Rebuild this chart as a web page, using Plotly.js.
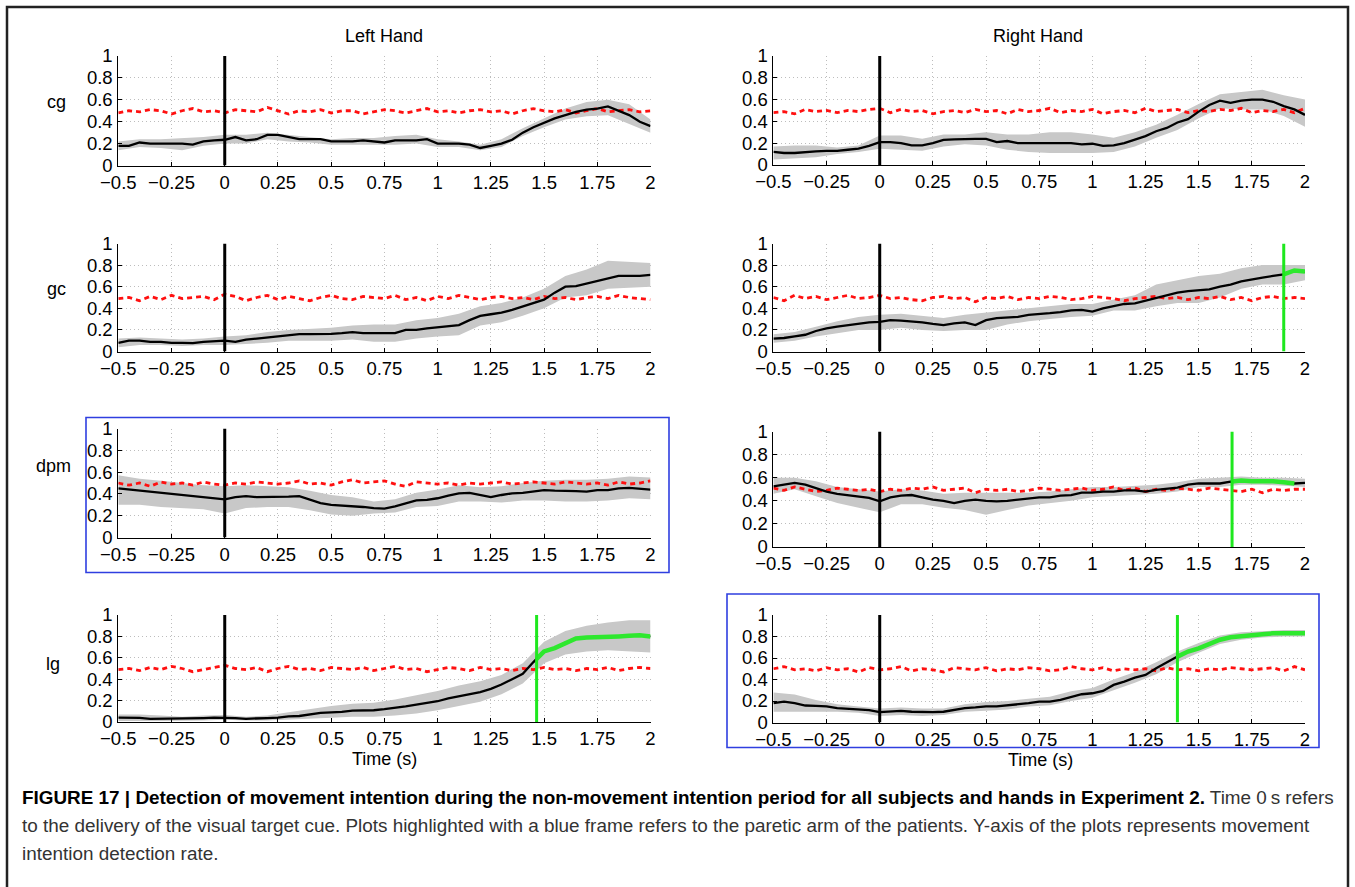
<!DOCTYPE html>
<html>
<head>
<meta charset="utf-8">
<script src="https://cdn.plot.ly/plotly-3.0.1.min.js"></script>
<style>
html,body{margin:0;padding:0;background:#fff;}
#chart{width:1355px;height:887px;}
</style>
</head>
<body>
<div id="chart"></div>
<script>
// ---------------- DATA ----------------
const time = [-0.5,-0.45,-0.4,-0.35,-0.3,-0.25,-0.2,-0.15,-0.1,-0.05,
  0,0.05,0.1,0.15,0.2,0.25,0.3,0.35,0.4,0.45,
  0.5,0.55,0.6,0.65,0.7,0.75,0.8,0.85,0.9,0.95,
  1,1.05,1.1,1.15,1.2,1.25,1.3,1.35,1.4,1.45,
  1.5,1.55,1.6,1.65,1.7,1.75,1.8,1.85,1.9,1.95,2];
const bandTime = [-0.5,-0.4,-0.3,-0.2,-0.1,0,0.1,0.2,0.3,0.4,0.5,0.6,0.7,0.8,0.9,1,1.1,1.2,1.3,1.4,1.5,1.6,1.7,1.8,1.9,2];
const xTicks = [-0.5,-0.25,0,0.25,0.5,0.75,1,1.25,1.5,1.75,2];
const yTicks = [0,0.2,0.4,0.6,0.8,1];
const rowNames = ["cg","gc","dpm","lg"];
const colNames = ["Left Hand","Right Hand"];

// mean detection rate (black line)
const meanCgL = [0.18,0.18,0.21,0.20,0.20,0.20,0.20,0.19,0.22,0.23,
  0.235,0.26,0.23,0.24,0.28,0.28,0.26,0.24,0.24,0.24,
  0.22,0.22,0.22,0.23,0.22,0.21,0.23,0.23,0.23,0.24,
  0.20,0.20,0.20,0.19,0.16,0.18,0.20,0.235,0.30,0.35,
  0.39,0.43,0.46,0.49,0.51,0.52,0.54,0.50,0.46,0.40,0.36];
const meanCgR = [0.12,0.11,0.11,0.12,0.125,0.13,0.13,0.14,0.15,0.175,
  0.21,0.21,0.20,0.18,0.18,0.20,0.23,0.235,0.24,0.24,
  0.24,0.21,0.22,0.20,0.20,0.20,0.195,0.195,0.20,0.19,
  0.195,0.175,0.18,0.20,0.235,0.265,0.31,0.34,0.39,0.42,
  0.49,0.55,0.59,0.57,0.59,0.60,0.60,0.58,0.54,0.51,0.46];
const meanGcL = [0.08,0.10,0.10,0.09,0.09,0.08,0.08,0.077,0.09,0.095,
  0.10,0.09,0.11,0.12,0.13,0.14,0.155,0.16,0.16,0.16,
  0.163,0.17,0.18,0.17,0.17,0.175,0.17,0.20,0.20,0.215,
  0.225,0.23,0.245,0.29,0.33,0.345,0.36,0.385,0.415,0.445,
  0.48,0.545,0.60,0.605,0.63,0.655,0.68,0.70,0.70,0.70,0.71];
const meanGcR = [0.12,0.125,0.14,0.155,0.19,0.215,0.23,0.245,0.26,0.27,
  0.275,0.29,0.285,0.28,0.27,0.255,0.245,0.26,0.27,0.245,
  0.29,0.31,0.315,0.32,0.34,0.345,0.355,0.365,0.38,0.385,
  0.37,0.40,0.42,0.44,0.445,0.47,0.50,0.525,0.545,0.56,
  0.565,0.575,0.60,0.62,0.65,0.67,0.685,0.70,0.715,0.75,0.74];
const meanDpmL = [0.45,0.44,0.43,0.42,0.405,0.40,0.39,0.38,0.37,0.36,
  0.35,0.37,0.38,0.37,0.37,0.37,0.375,0.38,0.345,0.315,
  0.30,0.295,0.285,0.28,0.27,0.265,0.285,0.315,0.34,0.345,
  0.36,0.385,0.405,0.41,0.39,0.37,0.39,0.405,0.41,0.42,
  0.435,0.43,0.43,0.425,0.42,0.435,0.435,0.45,0.455,0.45,0.44];
const meanDpmR = [0.525,0.54,0.555,0.54,0.51,0.48,0.46,0.45,0.44,0.425,
  0.395,0.43,0.445,0.45,0.43,0.41,0.40,0.38,0.40,0.41,
  0.40,0.395,0.40,0.41,0.415,0.43,0.43,0.445,0.45,0.47,
  0.47,0.48,0.48,0.49,0.49,0.48,0.495,0.505,0.515,0.54,
  0.55,0.55,0.55,0.565,0.575,0.57,0.57,0.57,0.56,0.55,0.555];
const meanLgL = [0.04,0.04,0.038,0.03,0.03,0.03,0.03,0.035,0.037,0.04,
  0.04,0.037,0.03,0.03,0.037,0.04,0.053,0.056,0.07,0.085,
  0.09,0.094,0.106,0.106,0.11,0.12,0.13,0.147,0.163,0.178,
  0.194,0.22,0.24,0.256,0.28,0.31,0.35,0.40,0.45,0.56,
  0.66,0.69,0.74,0.78,0.79,0.79,0.80,0.80,0.805,0.81,0.80];
const meanLgR = [0.18,0.195,0.18,0.158,0.155,0.15,0.133,0.127,0.124,0.115,
  0.096,0.10,0.108,0.10,0.096,0.096,0.10,0.118,0.133,0.14,
  0.15,0.15,0.158,0.17,0.18,0.195,0.195,0.21,0.24,0.263,
  0.272,0.294,0.35,0.38,0.418,0.443,0.505,0.56,0.613,0.66,
  0.69,0.728,0.77,0.793,0.805,0.814,0.82,0.83,0.83,0.83,0.83];

// grey band: lower / upper bounds (at bandTime)
const loCgL = [0.14,0.17,0.16,0.14,0.18,0.20,0.20,0.24,0.22,0.21,0.19,0.19,0.19,0.19,0.20,0.17,0.17,0.14,0.17,0.27,0.35,0.42,0.45,0.46,0.38,0.30];
const hiCgL = [0.22,0.24,0.24,0.25,0.26,0.28,0.28,0.30,0.28,0.26,0.24,0.25,0.25,0.27,0.28,0.24,0.22,0.19,0.24,0.34,0.43,0.52,0.58,0.60,0.56,0.42];
const loCgR = [0.05,0.06,0.07,0.10,0.12,0.15,0.14,0.13,0.17,0.19,0.18,0.14,0.12,0.11,0.11,0.11,0.12,0.17,0.25,0.32,0.43,0.52,0.51,0.51,0.45,0.35];
const hiCgR = [0.17,0.18,0.18,0.16,0.18,0.27,0.27,0.24,0.28,0.28,0.30,0.28,0.28,0.30,0.30,0.28,0.25,0.30,0.37,0.46,0.56,0.65,0.67,0.69,0.64,0.60];
const loGcL = [0.04,0.06,0.06,0.05,0.06,0.06,0.07,0.08,0.10,0.10,0.10,0.11,0.09,0.09,0.12,0.14,0.15,0.24,0.27,0.33,0.40,0.50,0.52,0.58,0.59,0.60];
const hiGcL = [0.12,0.13,0.12,0.11,0.12,0.14,0.15,0.18,0.20,0.21,0.22,0.24,0.25,0.25,0.29,0.31,0.35,0.42,0.45,0.50,0.58,0.70,0.76,0.84,0.83,0.82];
const loGcR = [0.08,0.10,0.14,0.17,0.20,0.20,0.22,0.20,0.19,0.20,0.20,0.25,0.28,0.30,0.32,0.33,0.38,0.38,0.42,0.45,0.45,0.50,0.58,0.62,0.62,0.66];
const hiGcR = [0.16,0.18,0.23,0.28,0.32,0.34,0.35,0.33,0.31,0.34,0.36,0.38,0.40,0.42,0.44,0.44,0.48,0.52,0.62,0.66,0.70,0.72,0.77,0.80,0.80,0.80];
const loDpmL = [0.30,0.30,0.28,0.27,0.26,0.22,0.27,0.28,0.28,0.25,0.21,0.20,0.22,0.23,0.28,0.29,0.33,0.33,0.32,0.34,0.34,0.33,0.33,0.34,0.36,0.35];
const hiDpmL = [0.57,0.54,0.52,0.50,0.48,0.47,0.48,0.47,0.46,0.43,0.39,0.37,0.33,0.35,0.41,0.44,0.48,0.46,0.47,0.50,0.52,0.53,0.53,0.54,0.56,0.55];
const loDpmR = [0.46,0.50,0.44,0.38,0.34,0.30,0.37,0.37,0.34,0.32,0.28,0.32,0.36,0.38,0.40,0.43,0.44,0.45,0.46,0.48,0.52,0.52,0.54,0.54,0.53,0.52];
const hiDpmR = [0.60,0.60,0.57,0.52,0.50,0.48,0.50,0.49,0.46,0.47,0.47,0.47,0.47,0.48,0.50,0.52,0.52,0.53,0.54,0.56,0.59,0.60,0.61,0.60,0.60,0.59];
const loLgL = [0.01,0.01,0.01,0.01,0.015,0.02,0.015,0.015,0.02,0.03,0.04,0.05,0.05,0.06,0.08,0.11,0.15,0.19,0.26,0.36,0.55,0.63,0.66,0.67,0.66,0.65];
const hiLgL = [0.07,0.07,0.06,0.05,0.06,0.065,0.05,0.06,0.09,0.12,0.15,0.17,0.18,0.21,0.25,0.29,0.34,0.38,0.44,0.55,0.75,0.85,0.90,0.93,0.95,0.95];
const loLgR = [0.10,0.10,0.10,0.10,0.09,0.06,0.07,0.06,0.07,0.10,0.11,0.12,0.15,0.16,0.20,0.23,0.30,0.37,0.45,0.56,0.65,0.73,0.77,0.79,0.80,0.80];
const hiLgR = [0.28,0.26,0.21,0.17,0.15,0.13,0.14,0.13,0.13,0.17,0.19,0.20,0.22,0.24,0.29,0.32,0.40,0.47,0.56,0.66,0.74,0.81,0.84,0.85,0.86,0.86];

// chance level (red dashed line)
const chanceCgL = [0.48,0.50,0.49,0.51,0.50,0.47,0.50,0.52,0.49,0.50,
  0.48,0.51,0.50,0.49,0.53,0.50,0.47,0.50,0.49,0.51,
  0.48,0.50,0.50,0.47,0.49,0.51,0.50,0.48,0.50,0.52,
  0.49,0.50,0.48,0.50,0.51,0.49,0.50,0.47,0.50,0.52,
  0.50,0.49,0.51,0.48,0.50,0.52,0.49,0.50,0.51,0.49,0.50];
const chanceCgR = [0.48,0.49,0.47,0.51,0.49,0.50,0.48,0.50,0.49,0.51,
  0.52,0.48,0.51,0.49,0.50,0.47,0.49,0.50,0.48,0.51,
  0.49,0.50,0.47,0.51,0.49,0.50,0.52,0.48,0.50,0.49,
  0.51,0.47,0.49,0.50,0.48,0.52,0.49,0.50,0.51,0.48,
  0.50,0.49,0.51,0.50,0.52,0.48,0.50,0.49,0.51,0.48,0.52];
const chanceGcL = [0.49,0.50,0.47,0.51,0.48,0.52,0.49,0.50,0.51,0.48,
  0.53,0.51,0.47,0.50,0.52,0.48,0.51,0.49,0.47,0.50,
  0.52,0.49,0.48,0.51,0.50,0.49,0.52,0.48,0.50,0.47,
  0.51,0.49,0.52,0.50,0.48,0.50,0.51,0.49,0.50,0.48,
  0.51,0.49,0.50,0.48,0.50,0.51,0.49,0.52,0.50,0.49,0.48];
const chanceGcR = [0.50,0.47,0.52,0.49,0.51,0.48,0.50,0.52,0.49,0.50,
  0.52,0.49,0.50,0.48,0.47,0.50,0.51,0.49,0.50,0.46,
  0.50,0.49,0.51,0.48,0.50,0.49,0.51,0.50,0.48,0.49,
  0.51,0.50,0.49,0.47,0.49,0.50,0.51,0.49,0.50,0.48,
  0.50,0.49,0.51,0.48,0.50,0.47,0.50,0.51,0.49,0.50,0.49];
const chanceDpmL = [0.50,0.48,0.50,0.47,0.51,0.49,0.50,0.48,0.51,0.49,
  0.48,0.50,0.49,0.51,0.50,0.49,0.50,0.52,0.49,0.50,
  0.48,0.51,0.53,0.50,0.51,0.52,0.49,0.47,0.51,0.50,
  0.49,0.50,0.48,0.50,0.49,0.50,0.51,0.49,0.50,0.51,
  0.50,0.49,0.51,0.50,0.49,0.50,0.48,0.51,0.49,0.50,0.52];
const chanceDpmR = [0.51,0.49,0.52,0.50,0.48,0.49,0.51,0.50,0.49,0.50,
  0.48,0.50,0.49,0.51,0.50,0.52,0.49,0.50,0.51,0.47,
  0.50,0.49,0.50,0.48,0.49,0.51,0.50,0.49,0.50,0.51,
  0.49,0.50,0.52,0.49,0.51,0.48,0.50,0.49,0.51,0.50,
  0.49,0.51,0.50,0.49,0.48,0.50,0.47,0.50,0.49,0.50,0.50];
const chanceLgL = [0.49,0.50,0.48,0.51,0.49,0.52,0.50,0.47,0.49,0.51,
  0.53,0.50,0.49,0.51,0.47,0.50,0.52,0.49,0.50,0.48,
  0.51,0.50,0.49,0.51,0.48,0.50,0.52,0.49,0.50,0.47,
  0.49,0.51,0.50,0.48,0.51,0.49,0.50,0.48,0.50,0.49,
  0.51,0.49,0.50,0.48,0.50,0.49,0.51,0.48,0.50,0.51,0.50];
const chanceLgR = [0.50,0.52,0.49,0.50,0.48,0.51,0.49,0.50,0.47,0.51,
  0.49,0.50,0.52,0.48,0.50,0.49,0.47,0.51,0.50,0.49,
  0.51,0.48,0.50,0.49,0.51,0.50,0.48,0.49,0.52,0.50,
  0.49,0.51,0.48,0.50,0.49,0.50,0.48,0.51,0.49,0.50,
  0.48,0.50,0.49,0.51,0.50,0.49,0.50,0.51,0.48,0.52,0.49];

// detection onset (green) and end of detected stretch; null = none
const detectOnset = [null, null, null, 1.9, null, 1.657, 1.465, 1.4];
const detectEnd   = [null, null, null, 2.0, null, 1.95, 2.0, 2.0];

// ---------------- PANELS (order: cg L, cg R, gc L, gc R, dpm L, dpm R, lg L, lg R) -------------
const means = [meanCgL, meanCgR, meanGcL, meanGcR, meanDpmL, meanDpmR, meanLgL, meanLgR];
const lows = [loCgL, loCgR, loGcL, loGcR, loDpmL, loDpmR, loLgL, loLgR];
const highs = [hiCgL, hiCgR, hiGcL, hiGcR, hiDpmL, hiDpmR, hiLgL, hiLgR];
const chances = [chanceCgL, chanceCgR, chanceGcL, chanceGcR, chanceDpmL, chanceDpmR, chanceLgL, chanceLgR];

// layout geometry (pixels)
const W = 1355, H = 887;
const colPx = [[118.3, 650.5], [773.4, 1305]];
const rowPx = [[56, 165.5], [56, 165], [243.5, 351.5], [243.5, 351.5],
               [428.5, 537.5], [431.5, 547], [615, 722], [615, 722.5]];

const FONT = 'Liberation Sans, Arial, Helvetica, sans-serif';
const traces = [];
const shapes = [];
const layout = {
  width: W, height: H,
  margin: {l:0, r:0, t:0, b:0},
  paper_bgcolor: '#ffffff', plot_bgcolor: '#ffffff',
  showlegend: false,
  font: {family: FONT, color: '#000'},
  annotations: [],
  shapes: shapes
};

function interp(xs, ys, x) {
  for (let i = 0; i < xs.length - 1; i++) {
    if (x >= xs[i] && x <= xs[i+1]) {
      const f = (x - xs[i]) / (xs[i+1] - xs[i]);
      return ys[i] + f * (ys[i+1] - ys[i]);
    }
  }
  return ys[ys.length - 1];
}

for (let i = 0; i < 8; i++) {
  const k = i === 0 ? '' : String(i + 1);
  const xa = 'x' + k, ya = 'y' + k;
  const col = i % 2;
  const [x0, x1] = colPx[col];
  const [yt, yb] = rowPx[i];
  const axStyle = {
    showgrid: true, gridcolor: '#bdbdbd', griddash: '1px,3px', gridwidth: 1,
    showline: true, linecolor: '#000', linewidth: 1, mirror: false,
    ticks: 'inside', ticklen: 4, tickcolor: '#000', tickwidth: 1,
    zeroline: false, fixedrange: true,
    tickfont: {family: FONT, size: 18.5, color: '#000'}
  };
  layout['xaxis' + k] = Object.assign({}, axStyle, {
    domain: [x0 / W, x1 / W], anchor: ya, range: [-0.5, 2],
    tickmode: 'array', tickvals: xTicks
  });
  layout['yaxis' + k] = Object.assign({}, axStyle, {
    domain: [1 - yb / H, 1 - yt / H], anchor: xa, range: [0, 1],
    tickmode: 'array', tickvals: yTicks, ticklabelstandoff: 1
  });

  // band
  traces.push({
    x: bandTime.concat(bandTime.slice().reverse()),
    y: highs[i].concat(lows[i].slice().reverse()),
    xaxis: xa, yaxis: ya, type: 'scatter', mode: 'lines',
    fill: 'toself', fillcolor: '#c8c8c8', line: {width: 0}, hoverinfo: 'skip'
  });
  // chance level
  traces.push({
    x: time, y: chances[i], xaxis: xa, yaxis: ya, type: 'scatter', mode: 'lines',
    line: {color: '#ff1010', width: 2.8, dash: '5px,4px'}, hoverinfo: 'skip'
  });
  // mean
  traces.push({
    x: time, y: means[i], xaxis: xa, yaxis: ya, type: 'scatter', mode: 'lines',
    line: {color: '#000', width: 2.3}, hoverinfo: 'skip'
  });
  // cue at t = 0
  shapes.push({type: 'line', xref: xa, yref: ya, x0: 0, x1: 0, y0: 0, y1: 1,
    line: {color: '#000', width: 3}, layer: 'above'});
  // detection
  if (detectOnset[i] !== null) {
    const d = detectOnset[i], e = detectEnd[i];
    const gx = [d], gy = [interp(time, means[i], d)];
    for (let j = 0; j < time.length; j++) {
      if (time[j] > d && time[j] <= e + 1e-9) { gx.push(time[j]); gy.push(means[i][j]); }
    }
    traces.push({
      x: gx, y: gy, xaxis: xa, yaxis: ya, type: 'scatter', mode: 'lines',
      line: {color: '#2ee82e', width: 4.5}, hoverinfo: 'skip'
    });
    shapes.push({type: 'line', xref: xa, yref: ya, x0: d, x1: d, y0: 0, y1: 1,
      line: {color: '#1ee81e', width: 3}, layer: 'above'});
  }
}

// blue frames (paretic arm) and outer border
function paperRect(px0, py0, px1, py1, color, width) {
  return {type: 'rect', xref: 'paper', yref: 'paper',
    x0: px0 / W, x1: px1 / W, y0: 1 - py1 / H, y1: 1 - py0 / H,
    line: {color: color, width: width}, fillcolor: 'rgba(0,0,0,0)', layer: 'above'};
}
shapes.push(paperRect(86, 417.5, 669, 572.5, '#2f3fe0', 1.6));
shapes.push(paperRect(727, 594, 1319, 747.5, '#2f3fe0', 1.6));
shapes.push(paperRect(7, 7, 1348, 900, '#222', 2.5));

function ann(text, px, py, size, opts) {
  layout.annotations.push(Object.assign({
    text: text, xref: 'paper', yref: 'paper', x: px / W, y: 1 - py / H,
    xanchor: 'center', yanchor: 'middle', showarrow: false,
    font: {family: FONT, size: size, color: '#000'}
  }, opts || {}));
}
ann(colNames[0], 384, 36.5, 18);
ann(colNames[1], 1038, 36.5, 18);
ann(rowNames[0], 56, 102, 18);
ann(rowNames[1], 56, 289, 18);
ann(rowNames[2], 53, 466, 18);
ann(rowNames[3], 53, 664, 18);
ann('Time (s)', 384, 759, 18);
ann('Time (s)', 1040, 760, 18);

const capFont = {family: FONT, size: 18.9, color: '#333'};
ann('<b style="color:#000">FIGURE 17 | Detection of movement intention during the non-movement intention period for all subjects and hands in Experiment 2.</b> Time 0\u2009s refers',
    20, 797, 19, {xanchor: 'left', font: capFont});
ann('to the delivery of the visual target cue. Plots highlighted with a blue frame refers to the paretic arm of the patients. Y-axis of the plots represents movement',
    20, 825, 19, {xanchor: 'left', font: capFont});
ann('intention detection rate.', 20, 853, 19, {xanchor: 'left', font: capFont});

Plotly.newPlot('chart', traces, layout, {displayModeBar: false, staticPlot: true});
</script>
</body>
</html>
